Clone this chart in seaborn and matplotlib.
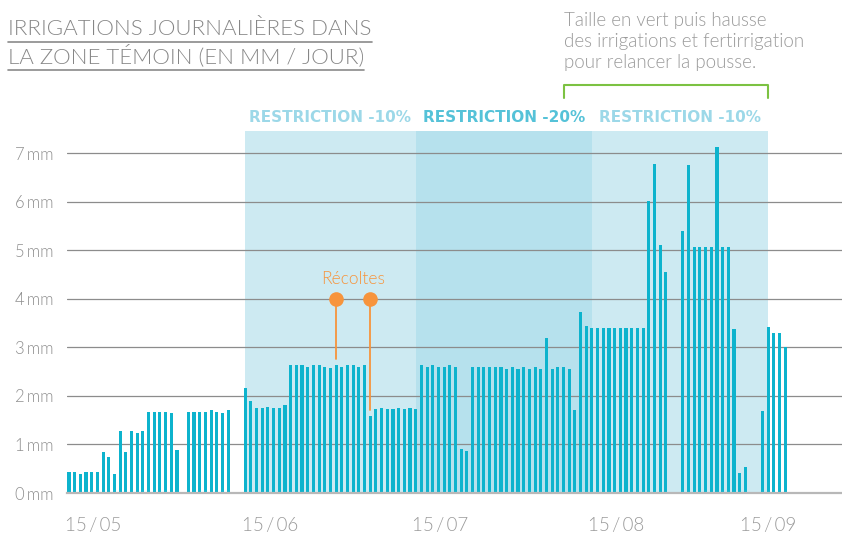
import numpy as np
import pandas as pd
import matplotlib.pyplot as plt
import matplotlib.transforms as mtransforms
import seaborn as sns

# Irrigation journaliere (mm) du 15/05 (jour 0) au 22/09 (jour 130)
irrigation_mm = [
    0.43, 0.43, 0.40, 0.43, 0.43, 0.43, 0.84, 0.74, 0.40, 1.27,
    0.84, 1.27, 1.24, 1.27, 1.67, 1.67, 1.67, 1.67, 1.64, 0.88,
    0.00, 1.67, 1.67, 1.67, 1.67, 1.71, 1.67, 1.64, 1.71, 0.00,
    0.00, 2.16, 1.89, 1.75, 1.75, 1.77, 1.75, 1.75, 1.82, 2.63,
    2.63, 2.63, 2.59, 2.63, 2.63, 2.59, 2.57, 2.63, 2.59, 2.63,
    2.63, 2.59, 2.63, 1.58, 1.72, 1.75, 1.72, 1.72, 1.75, 1.72,
    1.75, 1.72, 2.63, 2.59, 2.63, 2.59, 2.59, 2.63, 2.59, 0.90,
    0.87, 2.59, 2.59, 2.59, 2.59, 2.59, 2.59, 2.56, 2.59, 2.56,
    2.59, 2.56, 2.59, 2.56, 3.20, 2.56, 2.59, 2.59, 2.56, 1.71,
    3.72, 3.43, 3.40, 3.40, 3.40, 3.40, 3.40, 3.40, 3.40, 3.40,
    3.40, 3.40, 6.01, 6.78, 5.10, 4.56, 0.00, 0.00, 5.40, 6.76,
    5.06, 5.06, 5.06, 5.06, 7.12, 5.06, 5.06, 3.37, 0.41, 0.53,
    0.00, 0.00, 1.69, 3.41, 3.30, 3.30, 3.00, 0.00, 0.00, 0.00,
    0.03,
]
jours = list(range(len(irrigation_mm)))

tick_jours = [0, 31, 61, 92, 123]
tick_labels = ['15\u2009/\u200905', '15\u2009/\u200906', '15\u2009/\u200907',
               '15\u2009/\u200908', '15\u2009/\u200909']
y_ticks = [0, 1, 2, 3, 4, 5, 6, 7]

# periodes de restriction (bornes en jours)
periode_bornes = [31, 61, 92, 123]
periode_labels = ['RESTRICTION -10%', 'RESTRICTION -20%', 'RESTRICTION -10%']
periode_fonds = ['#cdeaf2', '#b6e1ed', '#cdeaf2']
periode_textes = ['#9cd8e8', '#55c2d8', '#9cd8e8']

# recoltes : jour et hauteur du bas du trait
recolte_jours = [47, 53]
recolte_bas = [2.76, 1.70]

# taille en vert : accolade du jour 87 au 15/09
taille_debut, taille_fin = 87.1, 123

df = pd.DataFrame({'jour': jours, 'mm': irrigation_mm})

sns.set_style('white')
plt.rcParams['font.family'] = ['Lato', 'DejaVu Sans']

W, H = 842, 533
fig = plt.figure(figsize=(W / 100, H / 100), dpi=100)
ax = fig.add_axes([67 / W, (H - 493) / H, (W - 67) / W, (493 - 131) / H])

for i in range(3):
    ax.axvspan(periode_bornes[i], periode_bornes[i + 1], color=periode_fonds[i],
               lw=0, zorder=0)
    ax.text((periode_bornes[i] + periode_bornes[i + 1]) / 2, 7.645, periode_labels[i],
            ha='center', va='baseline', fontsize=11, fontweight='bold',
            family='DejaVu Sans', color=periode_textes[i])

sns.barplot(data=df, x='jour', y='mm', native_scale=True, width=0.55,
            color='#0db3cd', saturation=1, errorbar=None, linewidth=0,
            ax=ax, zorder=3)

ax.set_xlim(-0.35, 136)
ax.set_ylim(0, 7.453)
ax.set_axisbelow(True)
ax.yaxis.grid(True, color='#8c8c8c', linewidth=0.9, zorder=1)
ax.xaxis.grid(False)
for s in ['left', 'top', 'right']:
    ax.spines[s].set_visible(False)
ax.spines['bottom'].set_color('#b8b8b8')
ax.spines['bottom'].set_linewidth(1.6)
ax.spines['bottom'].set_zorder(4)

ax.set_yticks(y_ticks)
ax.set_yticklabels([f'{v}\u2009mm' for v in y_ticks])
ax.set_xticks(tick_jours)
ax.set_xticklabels(tick_labels)
ax.tick_params(axis='y', length=0, pad=10, labelsize=12, labelcolor='#8f8f8f')
ax.tick_params(axis='x', length=8, width=1, color='#9a9a9a', pad=9,
               labelsize=13.5, labelcolor='#9a9a9a')
for lab in ax.get_xticklabels() + ax.get_yticklabels():
    lab.set_fontweight(300)
# les dates partent du trait (sauf la derniere, centree)
decal = mtransforms.ScaledTranslation(-3.5 / 100, 0, fig.dpi_scale_trans)
for lab in ax.get_xticklabels()[:-1]:
    lab.set_horizontalalignment('left')
    lab.set_transform(lab.get_transform() + decal)
ax.set_xlabel('')
ax.set_ylabel('')

# recoltes
orange = '#f7943c'
for j, bas in zip(recolte_jours, recolte_bas):
    ax.plot([j, j], [4.0, bas], color=orange, lw=1.3, zorder=5)
    ax.plot(j, 4.0, 'o', color=orange, ms=9.5, zorder=6)
ax.text(np.mean(recolte_jours), 4.41, 'Récoltes', ha='center', va='center',
        fontsize=12.5, color=orange, fontweight=300)

# accolade verte
ax.plot([taille_debut, taille_debut, taille_fin, taille_fin],
        [8.13, 8.40, 8.40, 8.13], color='#7cc242', lw=1.5, clip_on=False)

# note
note = ['Taille en vert puis hausse', 'des irrigations et fertirrigation',
        'pour relancer la pousse.']
for k, line in enumerate(note):
    fig.text(564 / W, 1 - (26 + 21 * k) / H, line, ha='left', va='baseline',
             fontsize=13.5, color='#9a9a9a', fontweight=300)

# titre souligne
titre = ['IRRIGATIONS JOURNALIÈRES DANS', 'LA ZONE TÉMOIN (EN MM / JOUR)']
txts = []
for k, line in enumerate(titre):
    t = fig.text(8 / W, 1 - (35 + 28.3 * k) / H, line, ha='left', va='baseline',
                 fontsize=16, color='#868686', fontweight=300)
    txts.append(t)
fig.canvas.draw()
r = fig.canvas.get_renderer()
for k, t in enumerate(txts):
    bb = t.get_window_extent(r)
    yl = 1 - (42.3 + 28 * k) / H
    fig.add_artist(plt.Line2D([bb.x0 / W, bb.x1 / W], [yl, yl],
                              transform=fig.transFigure, color='#8a8a8a', lw=1.2))

fig.savefig('out.png', dpi=100)
